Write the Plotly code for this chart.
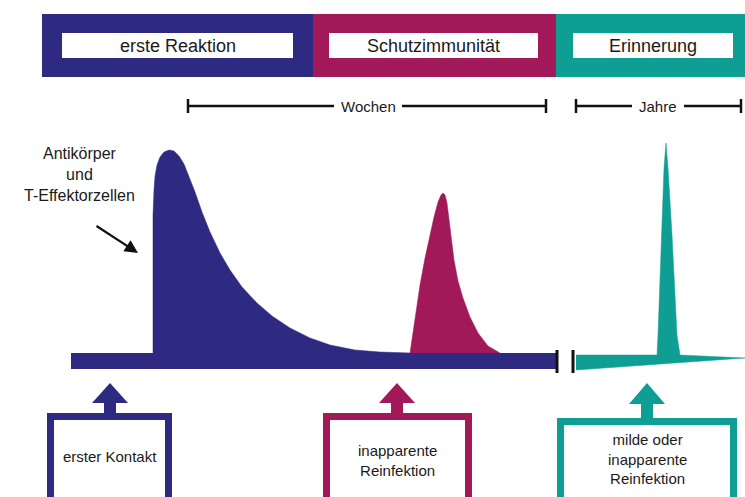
import plotly.graph_objects as go

# ---- data (pixel-space diagram values) ----
phase_labels = ["erste Reaktion", "Schutzimmunität", "Erinnerung"]
phase_x0 = [42, 313, 556]
phase_x1 = [313, 556, 745]
label_box_x0 = [62, 329, 573]
label_box_x1 = [293, 538, 733]

blue_x = [153, 153, 154, 155, 157, 160, 164, 169, 174, 179, 184, 189, 195, 202, 210, 220, 230, 242, 257, 272, 290, 310, 330, 355, 380, 410]
blue_y = [353, 215, 190, 176, 165, 157, 152, 150, 151, 156, 164, 176, 192, 212, 232, 253, 270, 287, 303, 316, 328, 338, 345, 350, 352, 353]

mag_x = [410, 415, 420, 425, 430, 434, 438, 441, 443, 445, 447, 449, 451, 454, 458, 463, 470, 478, 488, 500]
mag_y = [353, 318, 285, 258, 235, 217, 202, 195, 193, 195, 203, 218, 238, 260, 281, 298, 317, 333, 346, 353]

teal_x = [576, 657, 658, 662, 664, 666, 668, 672, 677, 680, 745, 576]
teal_y = [355, 355, 335, 235, 168, 143, 168, 235, 335, 355, 358, 370]

box_labels = ["erster Kontakt", "inapparente<br>Reinfektion", "milde oder<br>inapparente<br>Reinfektion"]
box_center = [110, 397, 647]
box_x0 = [47, 323, 557]
box_x1 = [172, 472, 737]
box_top = [413, 413, 418]
box_text_y = [456, 460, 459]

BLUE = "#2E2A82"
MAG = "#A2195A"
TEAL = "#0E9E94"
colors = [BLUE, MAG, TEAL]
FONT = "Liberation Sans, Arial, sans-serif"
TXT = "#1a1a1a"

fig = go.Figure()

# curves
fig.add_trace(go.Scatter(x=blue_x, y=blue_y, mode="lines", fill="toself",
                         fillcolor=BLUE, line=dict(color=BLUE, width=0.5), hoverinfo="skip"))
fig.add_trace(go.Scatter(x=mag_x, y=mag_y, mode="lines", fill="toself",
                         fillcolor=MAG, line=dict(color=MAG, width=0.5), hoverinfo="skip"))
fig.add_trace(go.Scatter(x=teal_x, y=teal_y, mode="lines", fill="toself",
                         fillcolor=TEAL, line=dict(color=TEAL, width=0.5), hoverinfo="skip"))

shapes = []
annotations = []

# top phase bar
for i in range(3):
    shapes.append(dict(type="rect", x0=phase_x0[i], x1=phase_x1[i], y0=14, y1=77,
                       fillcolor=colors[i], line=dict(width=0), layer="below"))
    shapes.append(dict(type="rect", x0=label_box_x0[i], x1=label_box_x1[i], y0=33, y1=58,
                       fillcolor="white", line=dict(width=0), layer="below"))
    annotations.append(dict(x=(label_box_x0[i] + label_box_x1[i]) / 2, y=45.5, text=phase_labels[i],
                            showarrow=False, font=dict(family=FONT, size=18, color=TXT),
                            xanchor="center", yanchor="middle"))

# time scale lines
def scale(x0, x1, tx0, tx1, label, center):
    shapes.append(dict(type="line", x0=x0, x1=tx0, y0=106, y1=106, line=dict(color="#111", width=2.5)))
    shapes.append(dict(type="line", x0=tx1, x1=x1, y0=106, y1=106, line=dict(color="#111", width=2.5)))
    for xx in (x0, x1):
        shapes.append(dict(type="line", x0=xx, x1=xx, y0=99, y1=113, line=dict(color="#111", width=2.5)))
    annotations.append(dict(x=center, y=106, text=label, showarrow=False,
                            font=dict(family=FONT, size=15, color=TXT), xanchor="center", yanchor="middle"))

scale(188, 546, 334, 402, "Wochen", 368)
scale(576, 741, 632, 684, "Jahre", 658)

# baseline
shapes.append(dict(type="rect", x0=71, x1=556, y0=353, y1=369, fillcolor=BLUE, line=dict(width=0), layer="below"))
for xx in (557, 573):
    shapes.append(dict(type="line", x0=xx, x1=xx, y0=350, y1=373, line=dict(color="#111", width=3)))

# bottom boxes with arrows
for i in range(3):
    c = box_center[i]
    col = colors[i]
    base = 403 if i < 2 else 404
    shapes.append(dict(type="path",
                       path=f"M {c-18},{base} L {c},{383} L {c+18},{base} Z",
                       fillcolor=col, line=dict(width=0)))
    shapes.append(dict(type="rect", x0=c - 6, x1=c + 6, y0=400, y1=box_top[i] + 2,
                       fillcolor=col, line=dict(width=0)))
    shapes.append(dict(type="rect", x0=box_x0[i] + 3.5, x1=box_x1[i] - 3.5, y0=box_top[i] + 3.5, y1=520,
                       fillcolor="white", line=dict(color=col, width=7)))
    annotations.append(dict(x=(box_x0[i] + box_x1[i]) / 2, y=box_text_y[i], text=box_labels[i], showarrow=False,
                            font=dict(family=FONT, size=15, color=TXT), xanchor="center", yanchor="middle"))

# curve label with arrow
annotations.append(dict(x=79, y=174, text="Antikörper<br>und<br>T-Effektorzellen", showarrow=False,
                        font=dict(family=FONT, size=16, color=TXT), xanchor="center", yanchor="middle"))
annotations.append(dict(x=138, y=253, ax=95, ay=225, xref="x", yref="y", axref="x", ayref="y",
                        text="", showarrow=True, arrowhead=2, arrowsize=1.2, arrowwidth=2.2, arrowcolor="#111"))

fig.update_layout(
    width=745, height=497,
    margin=dict(l=0, r=0, t=0, b=0),
    paper_bgcolor="white", plot_bgcolor="white",
    showlegend=False,
    xaxis=dict(range=[0, 745], visible=False, fixedrange=True),
    yaxis=dict(range=[497, 0], visible=False, fixedrange=True),
    shapes=shapes, annotations=annotations,
)

fig.write_html("out.html", config={"displayModeBar": False},
               post_script="document.body.style.margin='0px';")
